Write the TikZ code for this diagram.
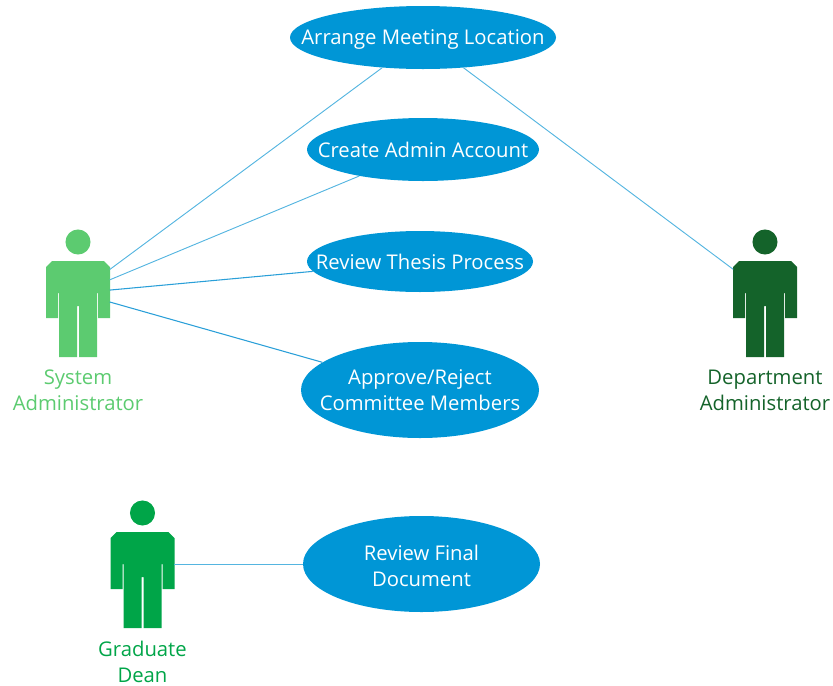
\documentclass[tikz,border=0pt]{standalone}
\usepackage{fontspec}
\setmainfont{Open Sans}
\usetikzlibrary{shapes.geometric}
\definecolor{usecaseblue}{HTML}{0096D6}
\definecolor{linkblue}{HTML}{55B5E0}
\definecolor{linkdeep}{HTML}{2A9FD8}
\definecolor{sysgreen}{HTML}{5CCB70}
\definecolor{deptgreen}{HTML}{14632A}
\definecolor{deangreen}{HTML}{00A548}
\tikzset{
    usecase/.style={ellipse,fill=usecaseblue,text=white,inner xsep=-30pt,inner ysep=-4pt,align=center,font=\fontsize{15.2}{19.4}\selectfont},
    actorbox/.style={rectangle,inner sep=0pt,minimum width=47.25pt,minimum height=95.25pt},
    actorlabel/.style={align=center,font=\fontsize{15.2}{19.4}\selectfont},
    link/.style={draw=linkblue,line width=0.7pt},
    linkstrong/.style={draw=linkdeep,line width=0.8pt}
}
% figure of an actor: name, x, y, colour
\newcommand{\actorfig}[4]{
    \node[actorbox] (#1) at (#2,#3) {};
    \fill[#4] (#2,#3-51) circle (9.4pt);
    \fill[#4] (#2-26,#3-32) -- (#2+26,#3-32) -- (#2+32,#3-26) -- (#2+32,#3+25) -- (#2+20,#3+25)
        -- (#2+20,#3) -- (#2+19,#3) -- (#2+19,#3+64) -- (#2+1,#3+64) -- (#2+1,#3+13) -- (#2-1,#3+13)
        -- (#2-1,#3+64) -- (#2-19,#3+64) -- (#2-19,#3) -- (#2-20,#3) -- (#2-20,#3+25) -- (#2-32,#3+25)
        -- (#2-32,#3-26) -- cycle;
}
\begin{document}
\begin{tikzpicture}[x=0.75pt,y=-0.75pt]
    \useasboundingbox (0,0) rectangle (833,686);

    \node[usecase,minimum width=199.5pt,minimum height=47.25pt,text height=14pt] (arrange) at (423,37.5) {Arrange Meeting Location};
    \node[usecase,minimum width=174pt,minimum height=47.25pt] (create) at (423,149.5) {Create Admin Account};
    \node[usecase,minimum width=169.5pt,minimum height=45.75pt] (thesis) at (420,261.5) {Review Thesis Process};
    \node[usecase,minimum width=178.5pt,minimum height=72pt] (approve) at (420,390) {Approve/Reject\\Committee Members};
    \node[usecase,minimum width=177.75pt,minimum height=72pt,text height=34.2pt] (final) at (421.5,564) {Review Final\\Document};

    \actorfig{sysadmin}{78}{293}{sysgreen}
    \actorfig{deptadmin}{765}{293}{deptgreen}
    \actorfig{dean}{142.5}{564}{deangreen}

    \node[actorlabel,text=sysgreen] (sysadminlabel) at (78,390) {System\\Administrator};
    \node[actorlabel,text=deptgreen] (deptadminlabel) at (765,390) {Department\\Administrator};
    \node[actorlabel,text=deangreen] (deanlabel) at (142.5,662) {Graduate\\Dean};

    \draw[link] (sysadmin) -- (arrange);
    \draw[link] (sysadmin) -- (create);
    \draw[linkstrong] (sysadmin) -- (thesis);
    \draw[linkstrong] (sysadmin) -- (approve);
    \draw[link] (deptadmin) -- (arrange);
    \draw[link] (dean) -- (final);
\end{tikzpicture}
\end{document}
